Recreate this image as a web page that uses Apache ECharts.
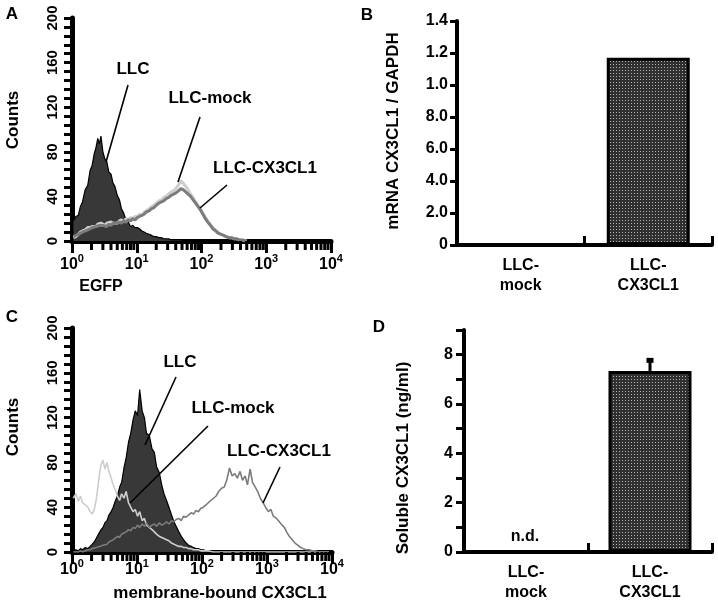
<!DOCTYPE html>
<html><head><meta charset="utf-8">
<script src="https://cdn.jsdelivr.net/npm/echarts@6/dist/echarts.min.js"></script>
<style>html,body{margin:0;padding:0;background:#fff}#c{width:718px;height:614px}</style>
</head><body><div id="c"></div>
<script>
// ---------- DATA ----------
// Flow cytometry channels (fluorescence intensity, log scale)
const channelsA = [
  1.05,1.15,1.25,1.35,1.45,1.6,1.75,1.9,2.05,2.2,
  2.35,2.5,2.65,2.8,3.0,3.2,3.45,3.7,4.0,4.3,
  4.6,5.0,5.4,5.8,6.3,6.8,7.4,8.0,8.7,9.4,
  10.2,11,12,13,14,15.5,17,18.5,20,22,
  24,26,28.5,31,34,37,40,44,48,52,
  57,62,68,74,81,88,96,105,115,125,
  137,150,165,180,200,220,240,265,290,320,
  350,385,420,460,500
];
const channelsC = [
  1.05,1.15,1.25,1.35,1.45,1.6,1.75,1.9,2.05,2.2,
  2.35,2.5,2.65,2.8,3.0,3.2,3.45,3.7,4.0,4.3,
  4.6,5.0,5.4,5.8,6.3,6.8,7.4,8.0,8.7,9.4,
  10.2,11,12,13,14,15.5,17,18.5,20,22,
  24,26,28.5,31,34,37,40,44,48,52,
  57,62,68,74,81,88,96,105,115,125,
  137,150,165,180,200,220,240,265,290,320,
  350,385,420,460,500,550,600,660,720,790,
  870,950,1050,1150,1250,1400,1550,1700,1850,2000,
  2200,2450,2700,3000,3300,3600,4000,4500,5000,5500,
  6000,7000,8000,9000
];
// Panel A (EGFP) counts
const countsA_LLC = [
  18,22,23,31,35,46,50,63,68,78,
  84,92,87,94,80,74,71,62,60,52,
  49,41,37,29,25,19,17,13,14,12,
  12,11,9,8,7,6,5,4,4,3,
  3,2,2,2,1,1,1,1,1,0.5,
  0.5,0,0,0,0,0,0,0,0,0,
  0,0,0,0,0,0,0,0,0,0,
  0,0,0,0,0
];
const countsA_mock = [
  3,4,6,8,9,10,12,12,13,14,
  13,15,14,16,15,14,16,15,17,16,
  17,16,18,19,17,20,19,21,20,22,
  22,24,23,26,27,29,31,32,34,36,
  37,39,40,42,44,45,47,50,54,52,
  49,46,42,39,35,32,29,25,21,18,
  15,12,10,8,6,5,4,3,3,2,
  2,1,1,0.5,0
];
const countsA_CX3CL1 = [
  4,5,6,7,8,9,10,11,12,12,
  13,12,14,13,14,15,13,15,14,16,
  15,16,17,16,18,17,19,18,20,19,
  21,22,23,24,26,27,29,30,32,34,
  35,36,38,39,41,42,43,45,47,46,
  44,42,40,37,34,31,28,24,20,17,
  14,11,9,7,6,5,4,3,3,2,
  2,1,1,0.5,0
];
// Panel C (membrane-bound CX3CL1) counts
const countsC_LLC = [
  1,2,1,3,2,4,3,5,7,9,
  12,15,16,20,22,26,28,33,36,40,
  45,50,58,62,75,84,98,106,118,126,
  122,145,126,120,106,104,92,89,76,71,
  60,52,46,40,33,27,23,18,14,11,
  8,6,5,4,3,3,2,2,1,1,
  1,0.5,0,0,0,0,0,0,0,0,
  0,0,0,0,0,0,0,0,0,0,
  0,0,0,0,0,0,0,0,0,0,
  0,0,0,0,0,0,0,0,0,0,
  0,0,0,0
];
const countsC_mock = [
  48,52,45,50,44,42,40,36,34,38,
  46,58,70,78,82,74,80,72,66,60,
  56,50,46,52,48,54,44,40,36,38,
  32,36,28,30,24,22,20,18,16,14,
  13,12,11,10,8,7,6,5,5,4,
  4,3,3,2,2,2,1,1,1,1,
  0.5,0,0,0,0,0,0,0,0,0,
  0,0,0,0,0,0,0,0,0,0,
  0,0,0,0,0,0,0,0,0,0,
  0,0,0,0,0,0,0,0,0,0,
  0,0,0,0
];
const countsC_CX3CL1 = [
  0,0,0,1,0,1,2,2,3,3,
  4,4,5,5,6,7,7,9,10,11,
  12,14,13,16,17,18,20,19,22,21,
  24,22,25,23,26,22,24,25,23,26,
  24,25,27,25,28,27,29,30,28,32,
  31,33,35,34,37,36,39,40,42,44,
  46,48,50,54,57,58,64,75,68,70,
  66,72,64,68,60,74,62,58,54,48,
  44,40,36,38,32,30,27,24,22,18,
  14,11,8,6,4,3,2,2,1,1,
  0.5,0,0,0
];
const minorLogTicks = [2,3,4,5,6,7,8,9,20,30,40,50,60,70,80,90,200,300,400,500,600,700,800,900,2000,3000,4000,5000,6000,7000,8000,9000];

// Bar panels
const barCategories = ['LLC-\nmock', 'LLC-\nCX3CL1'];
const mrnaValues = [0, 1.17];
const mrnaTickLabels = ['0','2.0','4.0','6.0','8.0','1.0','1.2','1.4'];
const solubleValues = ['-', 7.34];
const solubleErrors = [null, 0.49];

// ---------- CHART ----------
const FONT = '"Liberation Sans", Arial, Helvetica, sans-serif';
const chart = echarts.init(document.getElementById('c'), null, {renderer: 'canvas'});

const pc = document.createElement('canvas');
pc.width = 3; pc.height = 3;
const pctx = pc.getContext('2d');
pctx.fillStyle = '#303030'; pctx.fillRect(0, 0, 3, 3);
pctx.fillStyle = '#b4b4b4'; pctx.fillRect(1, 1, 1, 1);
const barPattern = {image: pc, repeat: 'repeat'};

const zip = (xs, ys) => xs.map((x, i) => [x, ys[i]]);

function logMain(gi, margin) {
  return {
    type: 'log', logBase: 10, gridIndex: gi, min: 1, max: 10000, position: 'bottom',
    axisLine: {show: true, lineStyle: {color: '#000', width: 5}},
    axisTick: {show: true, length: 12, lineStyle: {color: '#000', width: 3}},
    minorTick: {show: false}, splitLine: {show: false}, minorSplitLine: {show: false},
    axisLabel: {
      margin: margin, color: '#000',
      formatter: v => '{b|10}{s|' + Math.round(Math.log10(v)) + '}',
      rich: {
        b: {fontSize: 16, fontWeight: 'bold', fontFamily: FONT, color: '#000', verticalAlign: 'bottom', lineHeight: 20},
        s: {fontSize: 11, fontWeight: 'bold', fontFamily: FONT, color: '#000', verticalAlign: 'top', lineHeight: 20}
      }
    }
  };
}
function countAxis(gi) {
  return {
    type: 'value', gridIndex: gi, min: 0, max: 200, interval: 40,
    axisLine: {show: true, lineStyle: {color: '#000', width: 5}},
    axisTick: {show: true, length: 8, lineStyle: {color: '#000', width: 3}},
    minorTick: {show: true, splitNumber: 5, length: 8, lineStyle: {color: '#000', width: 3}},
    splitLine: {show: false}, minorSplitLine: {show: false},
    axisLabel: {rotate: 90, fontSize: 15, fontWeight: 'bold', fontFamily: FONT, color: '#000', margin: 12}
  };
}
function catAxis(gi) {
  return {
    type: 'category', gridIndex: gi, data: barCategories,
    axisLine: {show: true, lineStyle: {color: '#000', width: 4}},
    axisTick: {show: true, inside: true, length: 9, lineStyle: {color: '#000', width: 3}},
    axisLabel: {fontSize: 16, fontWeight: 'bold', fontFamily: FONT, color: '#000', lineHeight: 20, margin: 11}
  };
}
function histSeries(xi, yi, data, kind, thick) {
  if (kind === 'llc') {
    return {type: 'line', xAxisIndex: xi, yAxisIndex: yi, data, symbol: 'none', z: 2,
      lineStyle: {color: '#000', width: 1.2}, areaStyle: {color: '#383838', opacity: 1}, animation: false};
  }
  const color = kind === 'mock' ? '#cdcdcd' : '#7c7c7c';
  return {type: 'line', xAxisIndex: xi, yAxisIndex: yi, data, symbol: 'none', z: kind === 'mock' ? 3 : 4,
    lineStyle: {color, width: thick}, animation: false};
}
// minor log ticks (2..9 of each decade), placed through the x scale
function minorTickSeries(xi, yi) {
  return {type: 'custom', xAxisIndex: xi, yAxisIndex: yi, z: 10, silent: true, clip: false,
    data: minorLogTicks.map(v => [v, 0]),
    renderItem: (params, api) => {
      const c = api.coord([api.value(0), api.value(1)]);
      return {type: 'rect', shape: {x: c[0] - 1.5, y: c[1], width: 3, height: 9}, style: {fill: '#000'}};
    }};
}

function txt(text, x, y, size, rot) {
  return {type: 'text', x, y, rotation: rot || 0, z: 100,
    style: {text, x: 0, y: 0, fill: '#000', font: 'bold ' + size + 'px ' + FONT,
      textAlign: 'center', textVerticalAlign: 'middle'}};
}
function ln(x1, y1, x2, y2) {
  return {type: 'line', z: 100, shape: {x1, y1, x2, y2}, style: {stroke: '#000', lineWidth: 1.6}};
}

const option = {
  backgroundColor: '#fff',
  animation: false,
  grid: [
    {left: 72, top: 18, width: 259, height: 223},
    {left: 457, top: 21, width: 255, height: 224},
    {left: 72, top: 328, width: 260, height: 224},
    {left: 464, top: 330, width: 248, height: 222}
  ],
  xAxis: [
    logMain(0, 12),
    catAxis(1),
    logMain(2, 6),
    catAxis(3)
  ],
  yAxis: [
    countAxis(0),
    {type: 'value', gridIndex: 1, min: 0, max: 1.4, interval: 0.2,
      axisLine: {show: true, lineStyle: {color: '#000', width: 4}},
      axisTick: {show: true, length: 7, lineStyle: {color: '#000', width: 3}},
      splitLine: {show: false},
      axisLabel: {fontSize: 16, fontWeight: 'bold', fontFamily: FONT, color: '#000', margin: 9,
        formatter: v => mrnaTickLabels[Math.round(v / 0.2)] || ''}},
    countAxis(2),
    {type: 'value', gridIndex: 3, min: 0, max: 9, interval: 2,
      axisLine: {show: true, lineStyle: {color: '#000', width: 4}},
      axisTick: {show: true, length: 8, lineStyle: {color: '#000', width: 3}},
      minorTick: {show: true, splitNumber: 2, length: 8, lineStyle: {color: '#000', width: 3}},
      splitLine: {show: false}, minorSplitLine: {show: false},
      axisLabel: {fontSize: 16, fontWeight: 'bold', fontFamily: FONT, color: '#000', margin: 11,
        formatter: v => (v % 2 === 0 ? String(v) : '')}}
  ],
  series: [
    histSeries(0, 0, zip(channelsA, countsA_LLC), 'llc'),
    histSeries(0, 0, zip(channelsA, countsA_mock), 'mock', 3),
    histSeries(0, 0, zip(channelsA, countsA_CX3CL1), 'cx', 3),
    minorTickSeries(0, 0),
    histSeries(2, 2, zip(channelsC, countsC_LLC), 'llc'),
    histSeries(2, 2, zip(channelsC, countsC_mock), 'mock', 1.6),
    histSeries(2, 2, zip(channelsC, countsC_CX3CL1), 'cx', 1.6),
    minorTickSeries(2, 2),
    {type: 'bar', xAxisIndex: 1, yAxisIndex: 1, data: mrnaValues, barWidth: 83,
      itemStyle: {color: barPattern, borderColor: '#000', borderWidth: 3}},
    {type: 'bar', xAxisIndex: 3, yAxisIndex: 3, data: solubleValues, barWidth: 83,
      itemStyle: {color: barPattern, borderColor: '#000', borderWidth: 3}},
    {type: 'custom', xAxisIndex: 3, yAxisIndex: 3, z: 5,
      data: solubleValues.map((v, i) => solubleErrors[i] == null ? null : [i, v, v + solubleErrors[i]]).filter(d => d),
      renderItem: (params, api) => {
        const b = api.coord([api.value(0), api.value(1)]);
        const t = api.coord([api.value(0), api.value(2)]);
        return {type: 'group', children: [
          {type: 'line', shape: {x1: b[0], y1: b[1], x2: t[0], y2: t[1]}, style: {stroke: '#000', lineWidth: 3}},
          {type: 'rect', shape: {x: t[0] - 3.5, y: t[1] - 1, width: 7, height: 5}, style: {fill: '#000'}}
        ]};
      }}
  ],
  graphic: [
    txt('A', 12, 14, 17), txt('B', 367, 15, 17), txt('C', 12, 317, 17), txt('D', 379, 327, 17),
    txt('Counts', 13, 120, 17, Math.PI / 2),
    txt('Counts', 13, 427, 17, Math.PI / 2),
    txt('EGFP', 101, 287, 16),
    txt('membrane-bound CX3CL1', 220, 593, 17),
    txt('mRNA CX3CL1 / GAPDH', 393, 131, 17, Math.PI / 2),
    txt('Soluble CX3CL1 (ng/ml)', 403, 458, 17, Math.PI / 2),
    txt('LLC', 133, 69, 17), txt('LLC-mock', 210, 98, 17), txt('LLC-CX3CL1', 265, 168, 17),
    ln(128, 85, 106, 162), ln(200, 117, 178, 182), ln(227, 185, 200, 208),
    txt('LLC', 180, 362, 17), txt('LLC-mock', 233, 408, 17), txt('LLC-CX3CL1', 279, 451, 17),
    ln(176, 377, 145, 445), ln(208, 426, 130, 503), ln(280, 467, 263, 503),
    txt('n.d.', 525, 537, 16)
  ]
};
chart.setOption(option);
</script></body></html>
